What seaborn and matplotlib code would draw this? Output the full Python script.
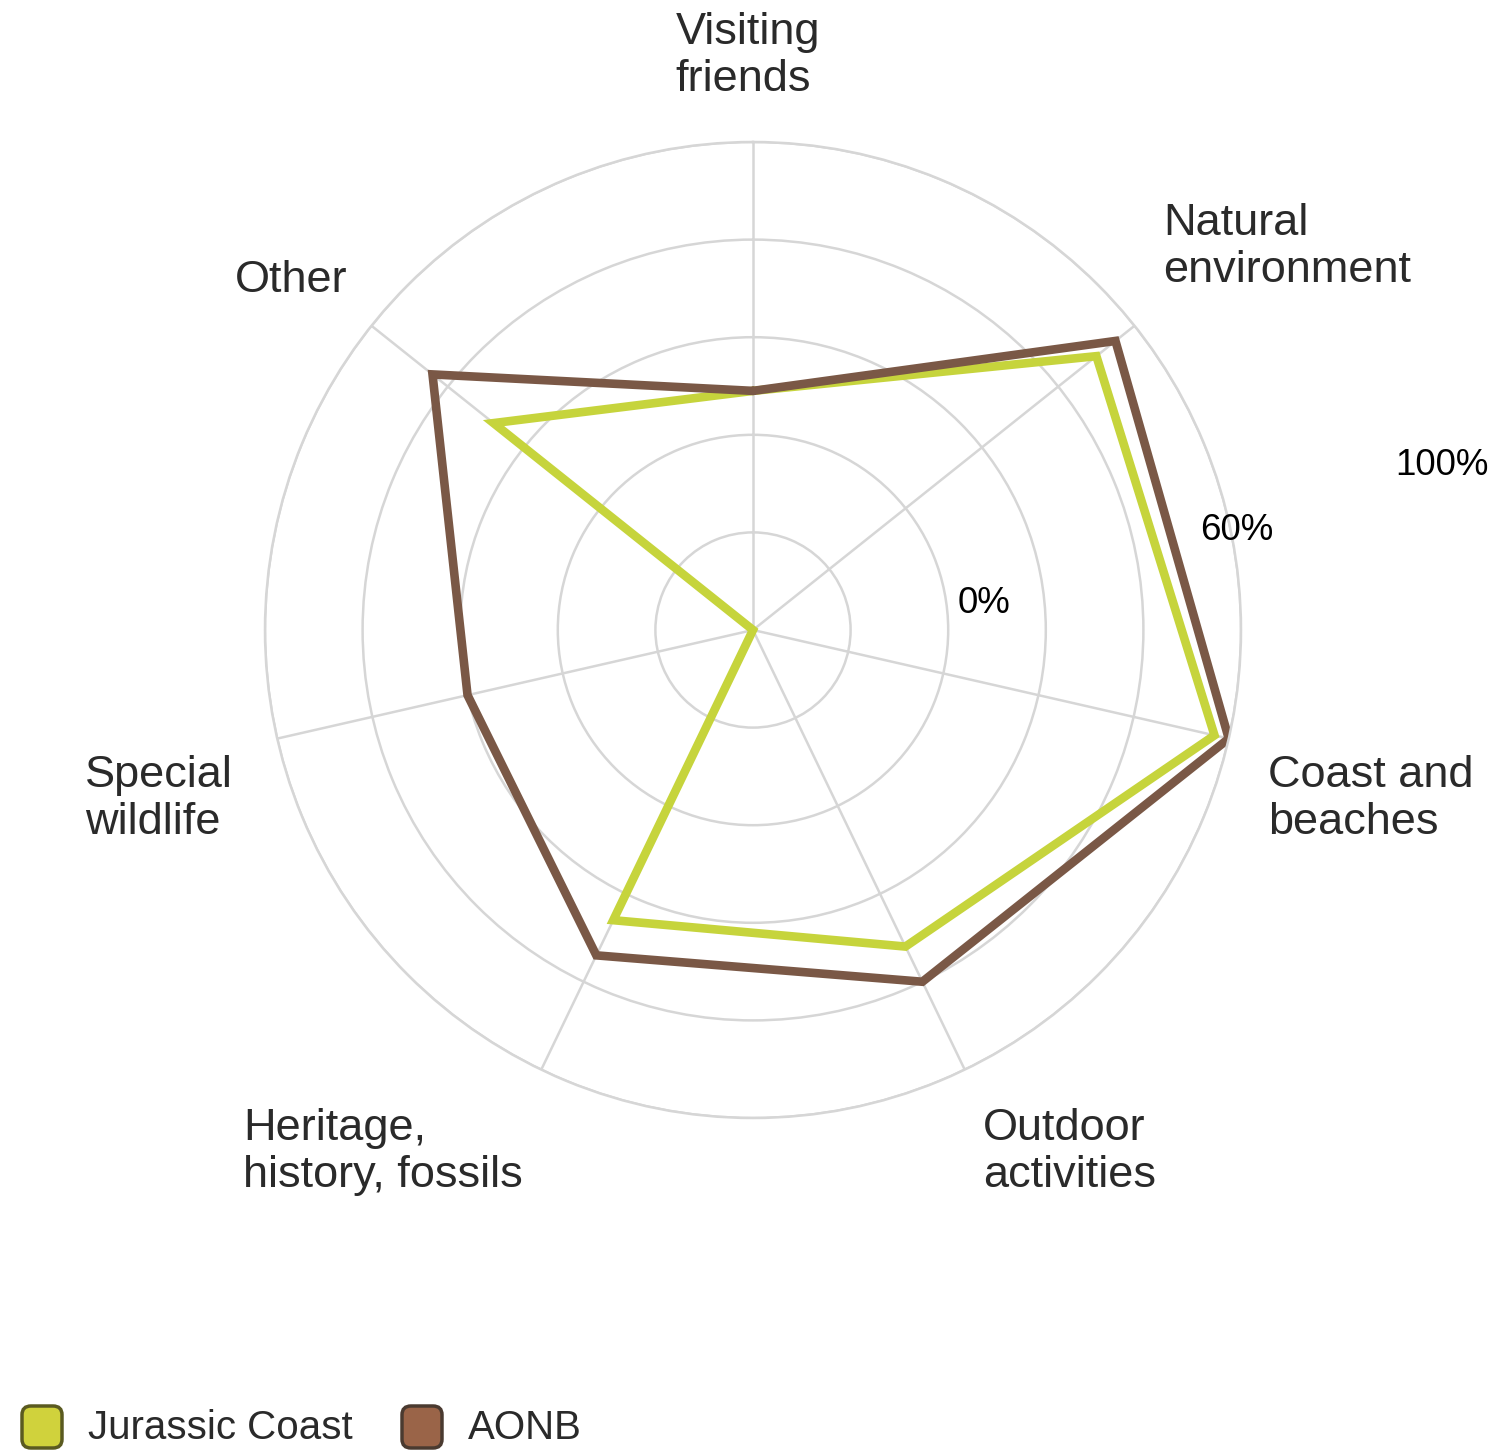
import numpy as np
import pandas as pd
import matplotlib
matplotlib.use("Agg")
import matplotlib.pyplot as plt
from matplotlib.patches import FancyBboxPatch
import seaborn as sns

categories = ["Visiting\nfriends", "Natural\nenvironment", "Coast and\nbeaches",
              "Outdoor\nactivities", "Heritage,\nhistory, fossils", "Special\nwildlife", "Other"]
jurassic = [49, 90, 97, 72, 66, 0, 68]
aonb = [49, 95, 100, 80, 74, 60, 84]
series_names = ["Jurassic Coast", "AONB"]
ring_ticks = [20, 40, 60, 80, 100]
pct_labels = ["0%", "60%", "100%"]

line_colors = {"Jurassic Coast": "#c6d43c", "AONB": "#7a5846"}
legend_fill = {"Jurassic Coast": "#d0d23c", "AONB": "#9a6448"}
legend_edge = {"Jurassic Coast": "#5a5a20", "AONB": "#4a3a30"}

sns.set_theme(style="white")
plt.rcParams['font.family'] = ['Liberation Sans', 'DejaVu Sans']

W, H = 1493, 1451
fig = plt.figure(figsize=(W / 100, H / 100), dpi=100)
cx, cy, R = 753, 630, 488
ax = fig.add_axes([(cx - R) / W, (H - cy - R) / H, 2 * R / W, 2 * R / H], projection="polar")
ax.set_theta_offset(np.pi / 2)
ax.set_theta_direction(-1)

n = len(categories)
angles = [i * 2 * np.pi / n for i in range(n)]

rows = []
for name, vals in zip(series_names, [jurassic, aonb]):
    for i in list(range(n)) + [0]:
        rows.append({"theta": angles[i], "r": vals[i], "series": name})
df = pd.DataFrame(rows)

sns.lineplot(data=df, x="theta", y="r", hue="series", palette=line_colors, sort=False,
             estimator=None, units="series", linewidth=6.2, ax=ax, legend=False)
for line in ax.lines:
    line.set_solid_joinstyle("miter")

ax.set_ylim(0, 100)
ax.set_yticks(ring_ticks)
ax.set_yticklabels([])
ax.set_xticks(angles)
ax.set_xticklabels([])
ax.grid(True, color="#d6d6d6", linewidth=1.8)
ax.spines["polar"].set_color("#d6d6d6")
ax.spines["polar"].set_linewidth(1.8)
ax.set_xlabel("")
ax.set_ylabel("")
ax.set_facecolor("none")

label_pos = [(748, 12, "center"), (1163, 203, "left"), (1268, 755, "left"),
             (983, 1108, "left"), (243, 1108, "left"), (85, 755, "left"), (235, 260, "left")]
for cat, (x, y, ha) in zip(categories, label_pos):
    fig.text(x / W, 1 - y / H, cat, ha=ha, va="top", fontsize=32.5, color="#2a2a2a",
             linespacing=1.2, multialignment="left")

pct_pos = [(958, 603), (1200, 530), (1395, 465)]
for lab, (x, y) in zip(pct_labels, pct_pos):
    fig.text(x / W, 1 - y / H, lab, ha="left", va="center", fontsize=26.5, color="black")

leg_items = [(22, series_names[0]), (402, series_names[1])]
for x, name in leg_items:
    box = FancyBboxPatch(((x) / W, 1 - 1448 / H), 40 / W, 42 / H,
                         boxstyle="round,pad=0,rounding_size=0.006",
                         transform=fig.transFigure, facecolor=legend_fill[name],
                         edgecolor=legend_edge[name], linewidth=2.5)
    fig.patches.append(box)
    fig.text((x + 66) / W, 1 - 1428 / H, name, ha="left", va="center",
             fontsize=29, color="#2a2a2a")

fig.savefig("out.png", dpi=100, facecolor="white")
